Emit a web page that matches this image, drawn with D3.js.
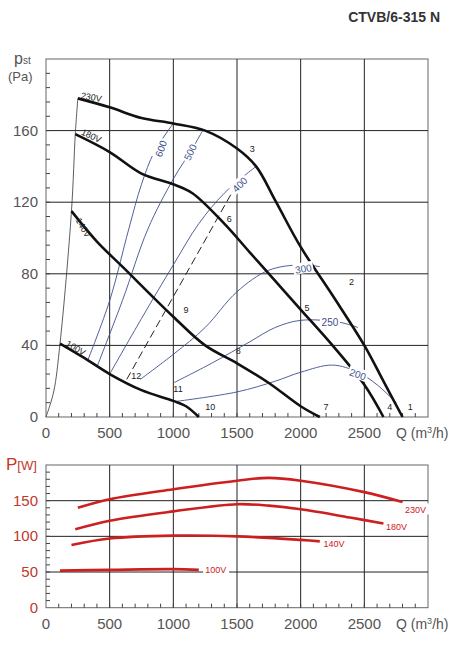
<!DOCTYPE html><html><head><meta charset="utf-8"><script src="https://cdn.jsdelivr.net/npm/d3@7"></script>
<style>body{margin:0;background:#fff}svg{font-family:Arial,"Liberation Sans",sans-serif}</style></head><body><svg id="c" width="464" height="648"></svg>
<script>
const qTicks=[0,500,1000,1500,2000,2500];
const pTicks=[0,40,80,120,160];
const wTicks=[0,50,100,150];
const curve230=[[250,178],[500,173],[750,167],[1000,164],[1250,160],[1500,150],[1650,140],[1800,121],[2000,95],[2250,68],[2500,40],[2650,20],[2800,0]];
const curve180=[[230,158],[500,148],[750,136],[1000,130],[1150,125],[1400,108],[1600,92],[1800,76],[2000,60],[2250,40],[2500,18],[2650,0]];
const curve140=[[200,115],[400,98],[600,84],[1000,56],[1250,40],[1500,30],[1750,19],[2000,6],[2150,0]];
const curve100=[[110,41],[300,33],[500,24],[750,15],[1000,9],[1100,6],[1200,0]];
const startLine=[[0,0],[60,14],[110,41],[200,115],[230,158],[250,178]];
const iso600=[[330,32],[500,65],[650,105],[750,130],[850,148],[1000,164]];
const iso500=[[400,28],[600,65],[800,105],[1000,133],[1150,150],[1230,160]];
const iso400=[[500,24],[750,55],[1000,85],[1200,108],[1400,125],[1650,140]];
const iso300=[[740,21],[1000,35],[1250,50],[1500,70],[1750,82],[2000,85],[2150,84]];
const iso250=[[1000,19],[1300,30],[1600,42],[1800,50],[2000,54],[2300,53],[2450,50]];
const iso200=[[1000,8.5],[1500,14],[1800,20],[2000,25],[2250,29],[2450,25],[2600,18],[2750,8]];
const dashed=[[634,21],[1473,127]];
const isoLabels=[["600",900,150,-70],["500",1130,148,-65],["400",1520,130,-45],["300",2020,83,-10],["250",2230,53,0],["200",2450,24,20]];
const ptLabels=[["1",2840,4],["2",2380,74],["3",1600,148],["4",2680,4],["5",2030,59],["6",1420,109],["7",2180,4],["8",1490,35],["9",1080,58],["10",1250,4],["11",1000,14],["12",670,21]];
const vLabels=[["230V",270,178,10],["180V",270,158,25],["140V",230,110,60],["100V",150,40,30]];
const pow230=[[250,140],[500,152],[1000,166],[1500,178],[1750,182],[2000,178],[2500,162],[2800,148]];
const pow180=[[230,110],[500,122],[1000,135],[1500,145],[1750,143],[2000,138],[2400,126],[2650,118]];
const pow140=[[200,88],[500,97],[1000,101],[1500,100],[2000,95],[2150,93]];
const pow100=[[110,52],[500,53],[1000,54],[1200,53]];
const powLabels=[["230V",2820,135],["180V",2670,112],["140V",2180,88],["100V",1250,51]];

const svg=d3.select("#c");
const x=d3.scaleLinear().domain([0,3000]).range([46,428]);
const y=d3.scaleLinear().domain([0,200]).range([417,59]);
const y2=d3.scaleLinear().domain([0,200]).range([607.7,465]);
const grey="#555";
function frame(ys,ticks,minorStep,col){
  const g=svg.append("g");
  g.append("rect").attr("x",46).attr("y",ys(200)).attr("width",382).attr("height",ys(0)-ys(200)).attr("fill","none").attr("stroke","#666");
  qTicks.slice(1).forEach(q=>g.append("line").attr("x1",x(q)).attr("x2",x(q)).attr("y1",ys(0)).attr("y2",ys(200)).attr("stroke","#222"));
  ticks.slice(1).forEach(v=>g.append("line").attr("x1",46).attr("x2",428).attr("y1",ys(v)).attr("y2",ys(v)).attr("stroke","#222"));
  for(let q=100;q<3000;q+=100)g.append("line").attr("x1",x(q)).attr("x2",x(q)).attr("y1",ys(0)).attr("y2",ys(0)-4).attr("stroke","#444");
  for(let v=minorStep;v<200;v+=minorStep)g.append("line").attr("x1",46).attr("x2",50).attr("y1",ys(v)).attr("y2",ys(v)).attr("stroke","#444");
  qTicks.forEach(q=>g.append("text").attr("x",x(q)).attr("y",ys(0)+21).attr("text-anchor","middle").attr("font-size",15).attr("fill",grey).text(q));
  ticks.forEach(v=>g.append("text").attr("x",38).attr("y",ys(v)+5).attr("text-anchor","end").attr("font-size",15).attr("fill",col).text(v));
  g.append("text").attr("x",396).attr("y",ys(0)+21).attr("font-size",14).attr("fill",grey).html('Q (m<tspan font-size="9" dy="-5">3</tspan><tspan dy="5">/h)</tspan>');
}
frame(y,pTicks,8,grey);
frame(y2,[0,50,100,150],10,"#c0392b");
svg.append("text").attr("x",440).attr("y",22).attr("text-anchor","end").attr("font-size",14).attr("font-weight","bold").attr("fill","#333").text("CTVB/6-315 N");
svg.append("text").attr("x",14).attr("y",64).attr("font-size",16).attr("fill",grey).html('p<tspan font-size="10">st</tspan>');
svg.append("text").attr("x",8).attr("y",81).attr("font-size",13).attr("fill",grey).text("(Pa)");
svg.append("text").attr("x",6).attr("y",470).attr("font-size",17).attr("fill","#c0392b").html('P<tspan font-size="13">[W]</tspan>');
const L=d3.line().x(d=>x(d[0])).y(d=>y(d[1])).curve(d3.curveCatmullRom);
const L2=d3.line().x(d=>x(d[0])).y(d=>y2(d[1])).curve(d3.curveCatmullRom);
[iso600,iso500,iso400,iso300,iso250,iso200].forEach(d=>svg.append("path").attr("d",L(d)).attr("fill","none").attr("stroke","#3d4f8c").attr("stroke-width",0.9));
svg.append("path").attr("d",L(dashed)).attr("fill","none").attr("stroke","#222").attr("stroke-dasharray","8,4");
svg.append("path").attr("d",L(startLine)).attr("fill","none").attr("stroke","#333").attr("stroke-width",0.8);
[curve230,curve180,curve140,curve100].forEach(d=>svg.append("path").attr("d",L(d)).attr("fill","none").attr("stroke","#111").attr("stroke-width",2.6));
isoLabels.forEach(([t,q,p,r])=>{const g=svg.append("g").attr("transform",`translate(${x(q)},${y(p)}) rotate(${r})`);
  g.append("rect").attr("x",-10).attr("y",-6).attr("width",20).attr("height",11).attr("fill","#fff");
  g.append("text").attr("text-anchor","middle").attr("y",4).attr("font-size",10).attr("fill","#3d4f8c").text(t);});
ptLabels.forEach(([t,q,p])=>svg.append("text").attr("x",x(q)).attr("y",y(p)).attr("font-size",9).attr("fill","#222").text(t));
vLabels.forEach(([t,q,p,r])=>svg.append("text").attr("transform",`translate(${x(q)},${y(p)}) rotate(${r})`).attr("font-size",9).attr("fill","#222").text(t));
[pow230,pow180,pow140,pow100].forEach(d=>svg.append("path").attr("d",L2(d)).attr("fill","none").attr("stroke","#cc2020").attr("stroke-width",2.6));
powLabels.forEach(([t,q,w])=>{svg.append("rect").attr("x",x(q)-2).attr("y",y2(w)-8).attr("width",26).attr("height",11).attr("fill","#fff");
  svg.append("text").attr("x",x(q)).attr("y",y2(w)+2).attr("font-size",9).attr("fill","#cc2020").text(t);});
</script></body></html>
